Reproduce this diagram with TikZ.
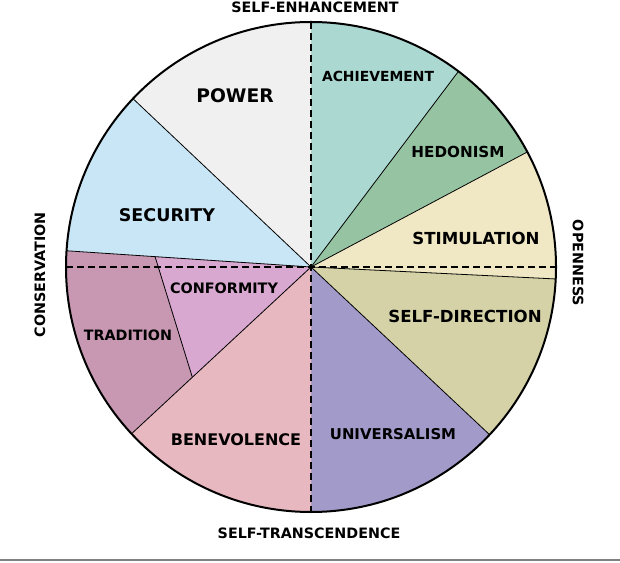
\documentclass[tikz,border=0pt]{standalone}
\usepackage{fontspec}
\setmainfont{DejaVu Sans}
\usetikzlibrary{calc}
\definecolor{cPower}{HTML}{F0F0F0}
\definecolor{cAchieve}{HTML}{ABD9D2}
\definecolor{cHedon}{HTML}{96C4A3}
\definecolor{cStim}{HTML}{F0E8C4}
\definecolor{cSelfDir}{HTML}{D4D2A6}
\definecolor{cUniv}{HTML}{A29BCA}
\definecolor{cBenev}{HTML}{E8B8C0}
\definecolor{cTrad}{HTML}{C898B2}
\definecolor{cConf}{HTML}{D8A8D0}
\definecolor{cSec}{HTML}{C8E6F6}
\tikzset{
  lbl/.style={font=\bfseries\fontsize{#1}{#1}\selectfont, inner sep=0pt, text=black},
  sep/.style={black, line width=0.8pt},
  axisdash/.style={black, line width=1.3pt, dash pattern=on 7pt off 4pt},
}
\newcommand{\wedgeR}{245}
\begin{document}
\begin{tikzpicture}[x=1pt,y=1pt]
\useasboundingbox (0,0) rectangle (620,562);
\fill[white] (0,0) rectangle (620,562);
\coordinate (C) at (311,295);
% wedges
\foreach \a/\b/\c in {90/136.6/cPower, 53/90/cAchieve, 28/53/cHedon, -2.8/28/cStim, -43.2/-2.8/cSelfDir, -90/-43.2/cUniv, 222.9/270/cBenev, 176.2/222.9/cTrad, 136.6/176.2/cSec}{
  \fill[\c] (C) -- ++(\a:\wedgeR) arc[start angle=\a, end angle=\b, radius=\wedgeR] -- cycle;
}
% conformity inner part
\coordinate (cfA) at ($(C)+(176.2:156.3)$);
\coordinate (cfB) at ($(C)+(222.9:162)$);
\fill[cConf] (C) -- (cfA) -- (cfB) -- cycle;
\draw[sep] (cfA) -- (cfB);
% separators
\foreach \a in {136.6, 53, 28, -2.8, -43.2, 222.9, 176.2}{
  \draw[sep] (C) -- ++(\a:\wedgeR);
}
% dashed axes
\coordinate (T) at ($(C)+(0,\wedgeR)$);
\coordinate (B) at ($(C)+(0,-\wedgeR)$);
\coordinate (L) at ($(C)+(-\wedgeR,0)$);
\coordinate (Rt) at ($(C)+(\wedgeR,0)$);
\draw[axisdash] (T) -- (B);
\draw[axisdash] (L) -- (Rt);
% outline
\draw[black, line width=2pt] (C) circle[radius=\wedgeR];
% labels
\node[lbl=18.7] (power) at (235,466) {POWER};
\node[lbl=13.9] (achieve) at (378,486) {ACHIEVEMENT};
\node[lbl=15.2] (hedon) at (458,410) {HEDONISM};
\node[lbl=16.6] (stim) at (476,324) {STIMULATION};
\node[lbl=16.6] (selfdir) at (465,246) {SELF-DIRECTION};
\node[lbl=14.9] (univ) at (393,128) {UNIVERSALISM};
\node[lbl=16] (benev) at (236,122) {BENEVOLENCE};
\node[lbl=14.3] (trad) at (128,227) {TRADITION};
\node[lbl=14.4] (conf) at (224,274) {CONFORMITY};
\node[lbl=17.5] (sec) at (167,347) {SECURITY};
\node[lbl=14.3] (senh) at (315,555) {SELF-ENHANCEMENT};
\node[lbl=14.3] (stra) at (309,29) {SELF-TRANSCENDENCE};
\node[lbl=14.3, rotate=90] (cons) at (40,287) {CONSERVATION};
\node[lbl=14.3, rotate=-90] (open) at (578,299) {OPENNESS};
% bottom rule
\draw[gray, line width=1.5pt] (0,2) -- (620,2);
\end{tikzpicture}
\end{document}
